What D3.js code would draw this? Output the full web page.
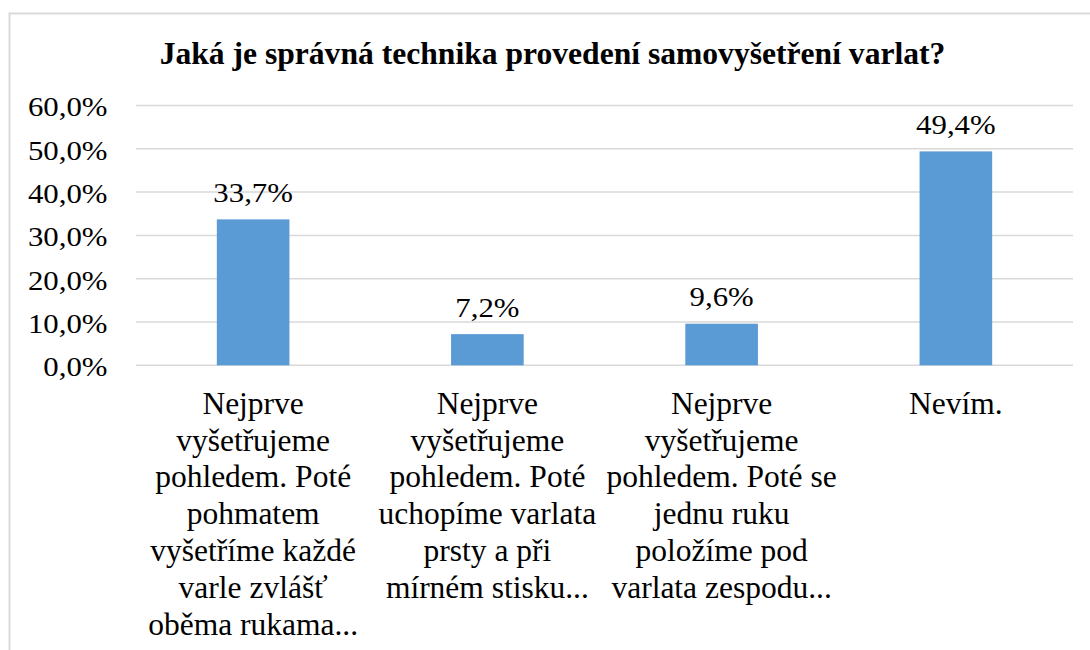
<!DOCTYPE html>
<html><head><meta charset="utf-8"><script src="https://cdn.jsdelivr.net/npm/d3@7"></script></head>
<body style="margin:0">
<svg id="s" width="1090" height="650" font-family="Liberation Serif"></svg>
<script>
const title = "Jaká je správná technika provedení samovyšetření varlat?";
const categories = [
  "Nejprve\nvyšetřujeme\npohledem. Poté\npohmatem\nvyšetříme každé\nvarle zvlášť\noběma rukama...",
  "Nejprve\nvyšetřujeme\npohledem. Poté\nuchopíme varlata\nprsty a při\nmírném stisku...",
  "Nejprve\nvyšetřujeme\npohledem. Poté se\njednu ruku\npoložíme pod\nvarlata zespodu...",
  "Nevím."
];
const values = [33.7, 7.2, 9.6, 49.4];
const valueLabels = ["33,7%", "7,2%", "9,6%", "49,4%"];
const yTicks = [0, 10, 20, 30, 40, 50, 60];
const yTickLabels = ["0,0%", "10,0%", "20,0%", "30,0%", "40,0%", "50,0%", "60,0%"];

const FONT = "Liberation Serif";
const svg = d3.select("#s");
const plot = { left: 136, right: 1073, top: 105.5, bottom: 365.3 };
const numScaleX = 1.1;

svg.append("rect")
  .attr("x", 9.5).attr("y", 13.5)
  .attr("width", 1100).attr("height", 700)
  .attr("fill", "none").attr("stroke", "#d9d9d9").attr("stroke-width", 2);

const x = d3.scaleBand().domain(d3.range(categories.length))
  .range([plot.left, plot.right]).padding(0);
const y = d3.scaleLinear().domain([0, 60]).range([plot.bottom, plot.top]);

svg.append("g").selectAll("line").data(yTicks).join("line")
  .attr("x1", plot.left).attr("x2", plot.right)
  .attr("y1", d => y(d)).attr("y2", d => y(d))
  .attr("stroke", "#d9d9d9").attr("stroke-width", 1.5);

const yAxis = d3.axisLeft(y).tickValues(yTicks)
  .tickFormat((d, i) => yTickLabels[i]).tickSize(0).tickPadding(0);
const yg = svg.append("g").attr("transform", "translate(107.5,0)").call(yAxis);
yg.attr("font-family", FONT).attr("font-size", 28);
yg.select(".domain").remove();
yg.selectAll(".tick text")
  .style("font-family", FONT)
  .attr("fill", "#000")
  .attr("x", null).attr("dy", "0.37em")
  .attr("transform", "scale(" + numScaleX + ",1)");

const barFrac = 0.31;
svg.append("g").selectAll("rect").data(values).join("rect")
  .attr("x", (d, i) => x(i) + x.bandwidth() * (1 - barFrac) / 2)
  .attr("width", x.bandwidth() * barFrac)
  .attr("y", d => y(d))
  .attr("height", d => y(0) - y(d))
  .attr("fill", "#5b9bd5");

valueLabels.forEach((lab, i) => {
  svg.append("text")
    .attr("transform", "translate(" + (x(i) + x.bandwidth() / 2) + "," + (y(values[i]) - 17.5) + ") scale(" + numScaleX + ",1)")
    .attr("text-anchor", "middle")
    .style("font-family", FONT)
    .attr("font-size", 28)
    .text(lab);
});

categories.forEach((c, i) => {
  const cx = x(i) + x.bandwidth() / 2;
  c.split("\n").forEach((line, j) => {
    svg.append("text")
      .attr("x", cx).attr("y", 413.8 + j * 36.8)
      .attr("text-anchor", "middle")
      .style("font-family", FONT)
      .attr("font-size", 31.5)
      .text(line);
  });
});

svg.append("text")
  .attr("x", 552.5).attr("y", 63.5)
  .attr("text-anchor", "middle")
  .style("font-family", FONT)
  .attr("font-size", 31.6).attr("font-weight", "bold")
  .text(title);
</script></body></html>
